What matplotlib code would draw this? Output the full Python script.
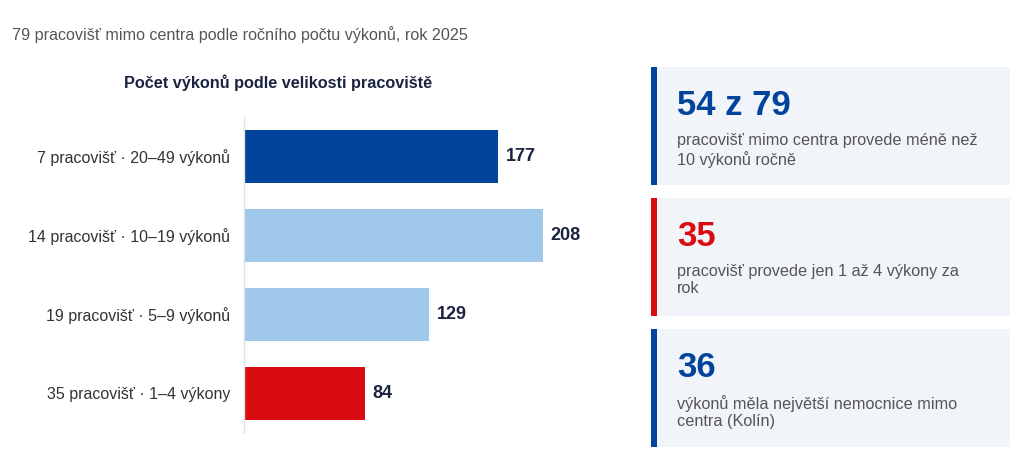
import matplotlib.pyplot as plt
from matplotlib.patches import Rectangle

plt.rcParams['font.family'] = ['Liberation Sans', 'DejaVu Sans']

# data
categories = ["7 pracovišť · 20–49 výkonů", "14 pracovišť · 10–19 výkonů",
              "19 pracovišť · 5–9 výkonů", "35 pracovišť · 1–4 výkony"]
values = [177, 208, 129, 84]
bar_colors = ["#02449b", "#a0c8ea", "#a0c8ea", "#d90c12"]

card_numbers = ["54 z 79", "35", "36"]
card_texts = ["pracovišť mimo centra provede méně než\n10 výkonů ročně",
              "pracovišť provede jen 1 až 4 výkony za\nrok",
              "výkonů měla největší nemocnice mimo\ncentra (Kolín)"]
card_colors = ["#02449b", "#d90c12", "#02449b"]

W, H = 1024, 468
fig = plt.figure(figsize=(W / 100, H / 100), dpi=100)


def fx(px):
    return px / W


def fy(py):
    return 1 - py / H


# header
fig.text(fx(12), fy(35), "79 pracovišť mimo centra podle ročního počtu výkonů, rok 2025",
         fontsize=11.6, color="#555555", va="center", ha="left")

# bar chart
ax = fig.add_axes([fx(244), fy(433), fx(603 - 244), (433 - 117) / H])
y = list(range(len(values)))
ax.barh(y, values, height=0.67, color=bar_colors)
ax.set_ylim(3.5, -0.5)
ax.set_xlim(0, 250)
ax.set_yticks(y)
ax.set_yticklabels(categories, fontsize=11.5, color="#333333")
ax.tick_params(axis="y", length=0, pad=10)
ax.set_xticks([])
for s in ["top", "right", "bottom"]:
    ax.spines[s].set_visible(False)
ax.spines["left"].set_color("#dde1e8")
ax.spines["left"].set_linewidth(1)
for i, v in enumerate(values):
    ax.text(v + 5.5, i, str(v), va="center", ha="left", fontsize=13,
            fontweight="bold", color="#1a2340")

fig.text(fx(278), fy(83), "Počet výkonů podle velikosti pracoviště", fontsize=11.7,
         fontweight="bold", color="#1a2340", ha="center", va="center")

# cards
card_tops = [67, 198, 329]
card_h = 118
for top, num, txt, col in zip(card_tops, card_numbers, card_texts, card_colors):
    fig.add_artist(Rectangle((fx(651), fy(top + card_h)), fx(1010 - 651), card_h / H,
                             transform=fig.transFigure, facecolor="#f1f4f9",
                             edgecolor="none"))
    fig.add_artist(Rectangle((fx(651), fy(top + card_h)), fx(6), card_h / H,
                             transform=fig.transFigure, facecolor=col,
                             edgecolor="none"))
    fig.text(fx(677), fy(top + 48), num, fontsize=25, fontweight="bold", color=col,
             ha="left", va="baseline")
    fig.text(fx(677), fy(top + 66), txt, fontsize=11.7, color="#555555",
             ha="left", va="top", linespacing=1.2)

fig.savefig("out.png", dpi=100)
